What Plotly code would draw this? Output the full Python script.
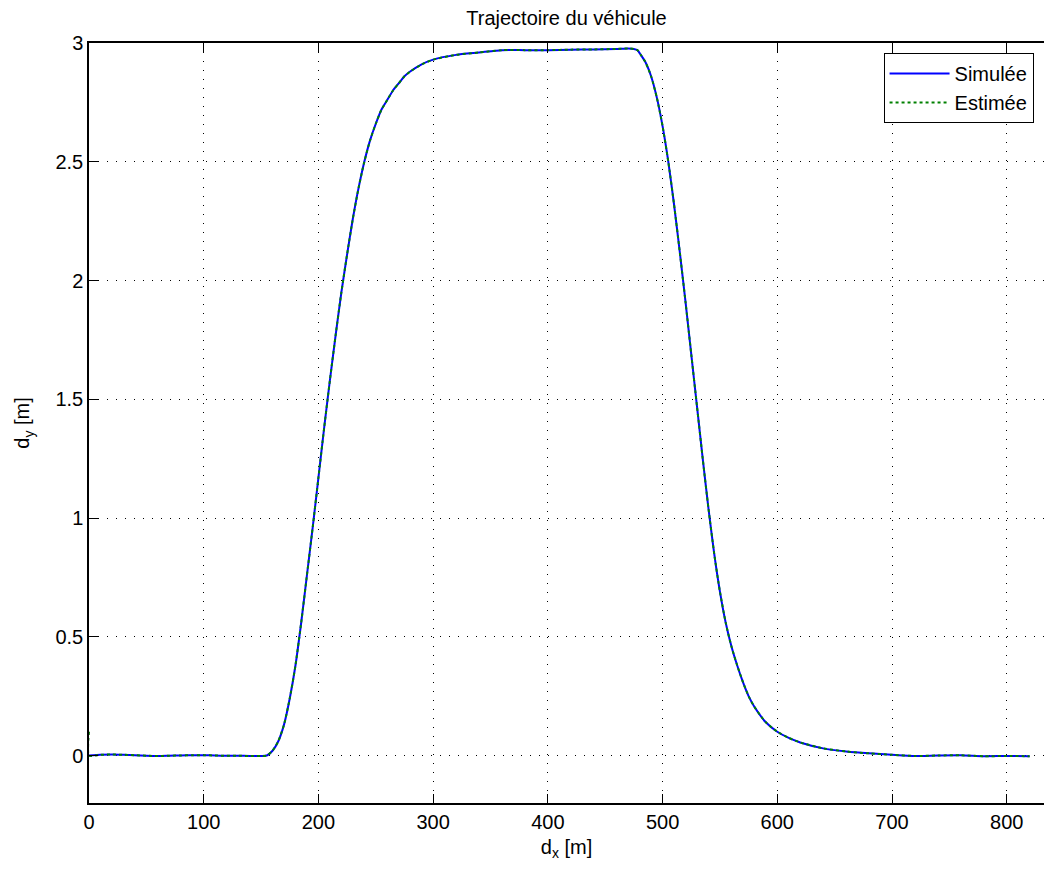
import plotly.graph_objects as go

# Simulated trajectory
sim_x = [0, 10, 20, 30, 40, 50, 60, 70, 80, 90, 100, 110, 120, 130, 140, 150, 155,
         160, 165, 170, 175, 180, 185, 190, 195, 200, 205, 210, 215, 220, 225, 230,
         235, 240, 245, 250, 255, 260, 265, 270, 275, 280, 290, 300, 320, 340, 360,
         380, 400, 420, 440, 460, 470, 475, 478, 481, 485, 490, 495, 500, 505, 510,
         515, 520, 525, 530, 535, 540, 545, 550, 555, 560, 565, 570, 575, 580, 590,
         600, 610, 620, 640, 660, 680, 700, 720, 740, 760, 780, 800, 820]
sim_y = [0.0, 0.003, 0.004, 0.003, 0.001, -0.001, -0.002, -0.001, 0.0, 0.001, 0.001,
         0.0, -0.001, -0.001, -0.002, -0.002, 0.0,
         0.02, 0.06, 0.13, 0.24, 0.38, 0.56, 0.76, 0.96, 1.17, 1.38, 1.58, 1.77, 1.95,
         2.11, 2.26, 2.39, 2.50, 2.59, 2.66, 2.72, 2.76, 2.80, 2.83, 2.86, 2.88, 2.91,
         2.93, 2.95, 2.96, 2.97, 2.97, 2.97, 2.972, 2.973, 2.975, 2.977, 2.975, 2.97,
         2.95, 2.92, 2.86, 2.77, 2.65, 2.50, 2.32, 2.12, 1.91, 1.69, 1.47, 1.25, 1.04,
         0.85, 0.69, 0.56, 0.46, 0.38, 0.31, 0.25, 0.205, 0.14, 0.10, 0.074, 0.055,
         0.03, 0.017, 0.009, 0.003, -0.002, 0.0, 0.001, -0.003, -0.002, -0.003]

# Estimated trajectory: same path, with an initial transient at x = 0
est_x = [0, 0] + sim_x[1:]
est_y = [0.1, 0.0] + sim_y[1:]

x_ticks = [0, 100, 200, 300, 400, 500, 600, 700, 800]
y_ticks = [0, 0.5, 1, 1.5, 2, 2.5, 3]
y_tick_labels = ["0", "0.5", "1", "1.5", "2", "2.5", "3"]

FONT = "Liberation Sans, Arial, Helvetica, sans-serif"

fig = go.Figure()
fig.add_trace(go.Scatter(x=sim_x, y=sim_y, mode="lines", name="Simulée",
                         line=dict(color="#0000FF", width=2, shape="spline",
                                   smoothing=0.6)))
fig.add_trace(go.Scatter(x=est_x, y=est_y, mode="lines", name="Estimée",
                         line=dict(color="#008000", width=2, dash="dot",
                                   shape="spline", smoothing=0.6)))

grid = dict(showgrid=True, gridcolor="#000000", gridwidth=1, griddash="1px,8px")

fig.update_layout(
    width=1044, height=869,
    margin=dict(l=89, r=0, t=43, b=66, autoexpand=False),
    paper_bgcolor="white", plot_bgcolor="white",
    font=dict(family=FONT, size=20, color="black"),
    title=dict(text="Trajectoire du véhicule", x=0.5, xref="paper", xanchor="center",
               y=0.979, yref="container", yanchor="middle",
               font=dict(size=20, family=FONT, color="black")),
    showlegend=True,
    legend=dict(x=0.832, y=0.987, xanchor="left", yanchor="top",
                bgcolor="white", bordercolor="black", borderwidth=1,
                font=dict(size=20, family=FONT), itemwidth=60,
                tracegroupgap=0),
    xaxis=dict(range=[0, 832.5], tickvals=x_ticks, ticks="inside", ticklen=9,
               tickcolor="black", showline=True, linecolor="black", linewidth=1.5,
               mirror="ticks", zeroline=False, automargin=False,
               title=dict(text="d<sub>x</sub> [m]", standoff=8,
                          font=dict(size=20, family=FONT)),
               **grid),
    yaxis=dict(range=[-0.2, 3], tickvals=y_ticks, ticktext=y_tick_labels,
               ticks="inside", ticklen=9, tickcolor="black", showline=True,
               linecolor="black", linewidth=1.5, mirror=False, zeroline=False,
               automargin=False,
               title=dict(text="d<sub>y</sub> [m]", standoff=20,
                          font=dict(size=20, family=FONT)),
               **grid),
)

fig.write_html("out.html", config={"displayModeBar": False},
               post_script="document.body.style.margin='0';document.body.style.overflow='hidden';")
